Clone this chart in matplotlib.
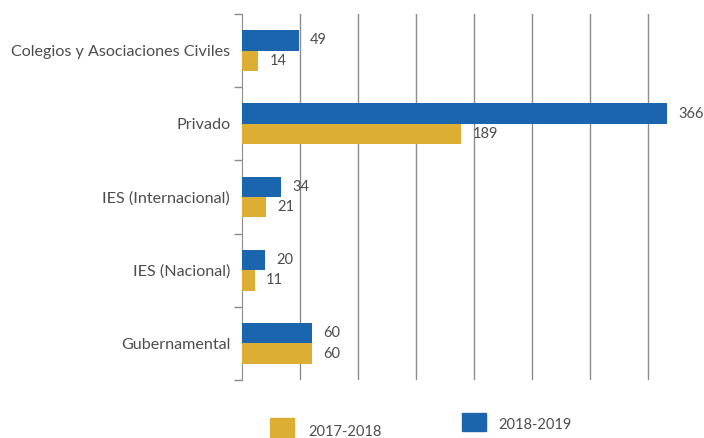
import matplotlib.pyplot as plt
from matplotlib.patches import Rectangle

# data
categories = ['Colegios y Asociaciones Civiles', 'Privado', 'IES (Internacional)',
              'IES (Nacional)', 'Gubernamental']
vals_2017 = [14, 189, 21, 11, 60]
vals_2018 = [49, 366, 34, 20, 60]
series_names = ['2017-2018', '2018-2019']

blue = '#1b64ae'
gold = '#dcaf34'
text_col = '#4d4d4d'
grid_col = '#8c8c8c'

plt.rcParams['font.family'] = ['Lato', 'DejaVu Sans']

fig = plt.figure(figsize=(7.04, 4.38), dpi=100)
W, H = 704, 438
ax = fig.add_axes([242 / W, 1 - 380 / H, (W - 242) / W, (380 - 14) / H])

h = 0.28
ys = list(range(len(categories)))
ax.barh([y - h / 2 for y in ys], vals_2018, height=h, color=blue, zorder=3)
ax.barh([y + h / 2 for y in ys], vals_2017, height=h, color=gold, zorder=3)

for y, v in zip(ys, vals_2018):
    ax.annotate(str(v), (v, y - h / 2), xytext=(8, 0), textcoords='offset points',
                va='center', ha='left', fontsize=10.5, color=text_col)
for y, v in zip(ys, vals_2017):
    ax.annotate(str(v), (v, y + h / 2), xytext=(8, 0), textcoords='offset points',
                va='center', ha='left', fontsize=10.5, color=text_col)

ax.set_xlim(0, 398)
ax.set_ylim(len(categories) - 0.5, -0.5)

ax.set_xticks(range(50, 400, 50))
ax.tick_params(axis='x', length=0, labelbottom=False)
ax.grid(axis='x', color=grid_col, linewidth=1, zorder=0)

ax.set_yticks(ys)
ax.set_yticklabels(categories, fontsize=11.6, color=text_col)
ax.tick_params(axis='y', length=0, pad=8.5)
ax.set_yticks([y - 0.5 for y in range(len(categories) + 1)], minor=True)
ax.tick_params(axis='y', which='minor', length=6, color=grid_col, width=1)

for s in ['top', 'right', 'bottom']:
    ax.spines[s].set_visible(False)
ax.spines['left'].set_color(grid_col)

# legend drawn in figure pixels, staggered like the original
fig.add_artist(Rectangle((270 / W, 1 - 437 / H), 24 / W, 19 / H, color=gold,
                         transform=fig.transFigure))
fig.text(308 / W, 1 - 436 / H, series_names[0], fontsize=10.5, color=text_col, va='baseline')
fig.add_artist(Rectangle((462 / W, 1 - 431 / H), 24 / W, 18 / H, color=blue,
                         transform=fig.transFigure))
fig.text(498 / W, 1 - 429 / H, series_names[1], fontsize=10.5, color=text_col, va='baseline')

fig.savefig('out.png', dpi=100)
